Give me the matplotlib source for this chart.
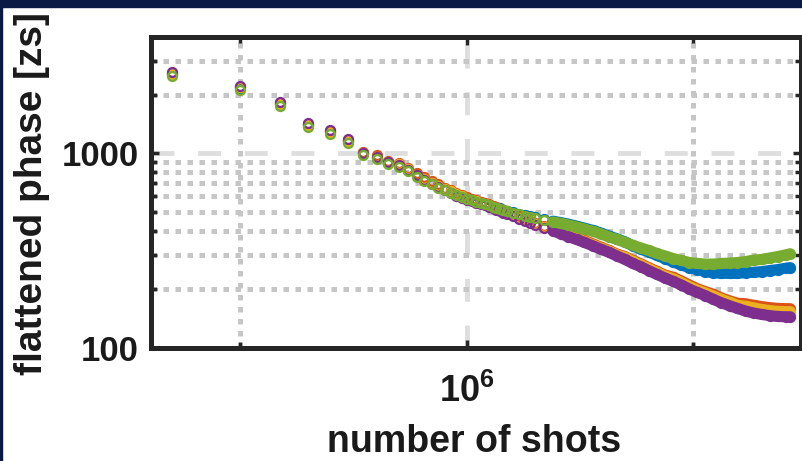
import matplotlib
matplotlib.use("Agg")
import matplotlib.pyplot as plt
from matplotlib.patches import Rectangle
from matplotlib.ticker import NullFormatter

plt.rcParams["font.family"] = ["Liberation Sans", "DejaVu Sans"]
plt.rcParams["font.weight"] = "bold"
plt.rcParams["mathtext.fontset"] = "custom"
plt.rcParams["mathtext.bf"] = "Liberation Sans:bold"
plt.rcParams["mathtext.rm"] = "Liberation Sans:bold"

# ---- data -------------------------------------------------------------
SHOTS_PER_STEP = 50000
steps = list(range(1, 31)) + [32, 34, 36, 38, 40, 44,
         48, 52, 56, 61, 66, 72, 78, 85, 92, 100,
         108, 117, 127, 138, 150, 163, 177, 192, 208, 226,
         245, 266, 289, 313, 340, 369, 400, 434, 471, 511, 535]

phase_blue = [2550, 2180, 1795, 1400, 1285, 1155, 1000, 950, 895, 872,
              825, 772, 735, 705, 678, 654, 637, 618, 602, 586,
              575, 567, 559, 551, 543, 535, 528, 520, 513, 506,
              498, 489, 481, 475, 469, 458,
              447, 440, 432, 422, 412, 401, 389, 375, 363, 350,
              334, 321, 311, 298, 287, 276, 266, 258, 252, 246,
              243, 241, 241, 241, 243, 244, 246, 249, 252, 256, 258]

phase_orange = [2580, 2200, 1815, 1410, 1300, 1170, 1020, 975, 915, 890,
                842, 790, 752, 720, 692, 667, 648, 628, 611, 594,
                583, 574, 564, 555, 546, 537, 527, 518, 510, 502,
                487, 473, 461, 450, 438, 421,
                409, 394, 382, 369, 356, 342, 329, 316, 303, 294,
                281, 270, 258, 247, 236, 230, 220, 210, 201, 194,
                188, 180, 174, 169, 168, 165, 162.5, 160.5, 159, 158.5, 158.5]

phase_yellow = [2560, 2190, 1800, 1400, 1290, 1160, 1005, 960, 900, 878,
                828, 776, 738, 707, 680, 655, 638, 618, 601, 585,
                575, 565, 556, 547, 538, 529, 520, 511, 502, 494,
                481, 467, 455, 444, 432, 416,
                404, 390, 377, 364, 352, 338, 325, 313, 300, 291,
                278, 267, 255, 244, 233, 226, 216, 206, 198, 191,
                184, 177, 171, 165, 163, 160, 157, 155, 153.5, 153, 153]

phase_purple = [2620, 2230, 1840, 1430, 1320, 1180, 1010, 955, 900, 872,
                822, 770, 730, 698, 670, 645, 626, 606, 590, 574,
                566, 557, 548, 539, 530, 521, 512, 503, 495, 487,
                475, 461, 450, 439, 427, 411,
                399, 385, 373, 360, 348, 334, 321, 309, 296, 284,
                271, 261, 249, 238, 228, 219, 210, 200, 192, 185,
                177, 170, 164, 159, 154, 150.5, 148, 146, 144.5, 144, 144]

phase_green = [2490, 2130, 1760, 1370, 1255, 1130, 985, 930, 878, 855,
               810, 758, 722, 692, 666, 644, 628, 610, 595, 580,
               572, 564, 556, 548, 540, 532, 525, 517, 510, 503,
               494, 485, 477, 471, 465, 454,
               443, 436, 428, 418, 408, 397, 385, 371, 360, 348,
               336, 326, 316, 305, 296, 287, 281, 274, 271, 269,
               269, 271, 272, 274, 277, 282, 284, 289, 294, 300, 304]

series = [
    (phase_blue, "#0072BD"),
    (phase_orange, "#D95319"),
    (phase_yellow, "#EDB120"),
    (phase_purple, "#7E2F8E"),
    (phase_green, "#77AC30"),
]

y_ticks = [100, 1000]
y_tick_labels = ["100", "1000"]
y_minor = [200, 300, 400, 500, 600, 700, 800, 900, 2000, 3000]
x_ticks = [1e6]
x_tick_labels = [r"$\mathbf{10^{6}}$"]
x_minor = [1e5, 1e7]

shots = [SHOTS_PER_STEP * s for s in steps]
dense_from = steps.index(48)

# ---- figure -----------------------------------------------------------
W, H = 803, 461
fig = plt.figure(figsize=(W / 100, H / 100), dpi=100, facecolor="white")
navy = "#0b1a44"
fig.patches.append(Rectangle((0, 1 - 7 / H), 1, 7 / H, transform=fig.transFigure,
                             color=navy, zorder=0))
fig.patches.append(Rectangle((0, 0), 2 / W, 1, transform=fig.transFigure,
                             color=navy, zorder=0))

left, right, top, bottom = 151, 801, 37, 347.5
ax = fig.add_axes([left / W, 1 - bottom / H, (right - left) / W, (bottom - top) / H])
ax.set_xscale("log")
ax.set_yscale("log")
ax.set_xlim(4.04e4, 2.985e7)
ax.set_ylim(100, 3975)

for vals, col in series:
    ax.plot(shots[dense_from:], vals[dense_from:], "-", color=col, lw=8,
            solid_capstyle="round", solid_joinstyle="round", zorder=3)
    ax.plot(shots, vals, "o", mfc="none", mec=col, ms=6.4, mew=1.7, zorder=3)

ax.set_yticks(y_ticks, y_tick_labels)
ax.set_yticks(y_minor, minor=True)
ax.set_xticks(x_ticks, x_tick_labels)
ax.set_xticks(x_minor, minor=True)
ax.yaxis.set_minor_formatter(NullFormatter())
ax.xaxis.set_minor_formatter(NullFormatter())

ax.set_axisbelow(True)
ax.grid(True, which="major", color="#dedede", lw=3.5, linestyle=(0, (4.7, 4.9)))
ax.grid(True, which="minor", color="#c6c6c6", lw=3.6, linestyle=(0, (1.1, 1.3)))

dark = "#262626"
for sp in ax.spines.values():
    sp.set_linewidth(3.6)
    sp.set_color(dark)

ax.tick_params(which="both", direction="in", top=True, right=True, color=dark)
ax.tick_params(which="major", length=6, width=2.5, labelsize=25, labelcolor="#1a1a1a")
ax.tick_params(which="minor", length=4, width=2.5)
ax.tick_params(axis="y", which="major", pad=9)
ax.tick_params(axis="x", which="major", pad=19, labelsize=26)

fig.text(474.5 / W, 9 / H, "number of shots", fontsize=27, fontweight="bold",
         ha="center", va="baseline", color="#1a1a1a")
fig.text(32 / W, 1 - 193.5 / H, "flattened phase [zs]", fontsize=28, fontweight="bold",
         rotation=90, ha="center", va="center", color="#1a1a1a")

fig.savefig("out.png", dpi=100, facecolor="white")
